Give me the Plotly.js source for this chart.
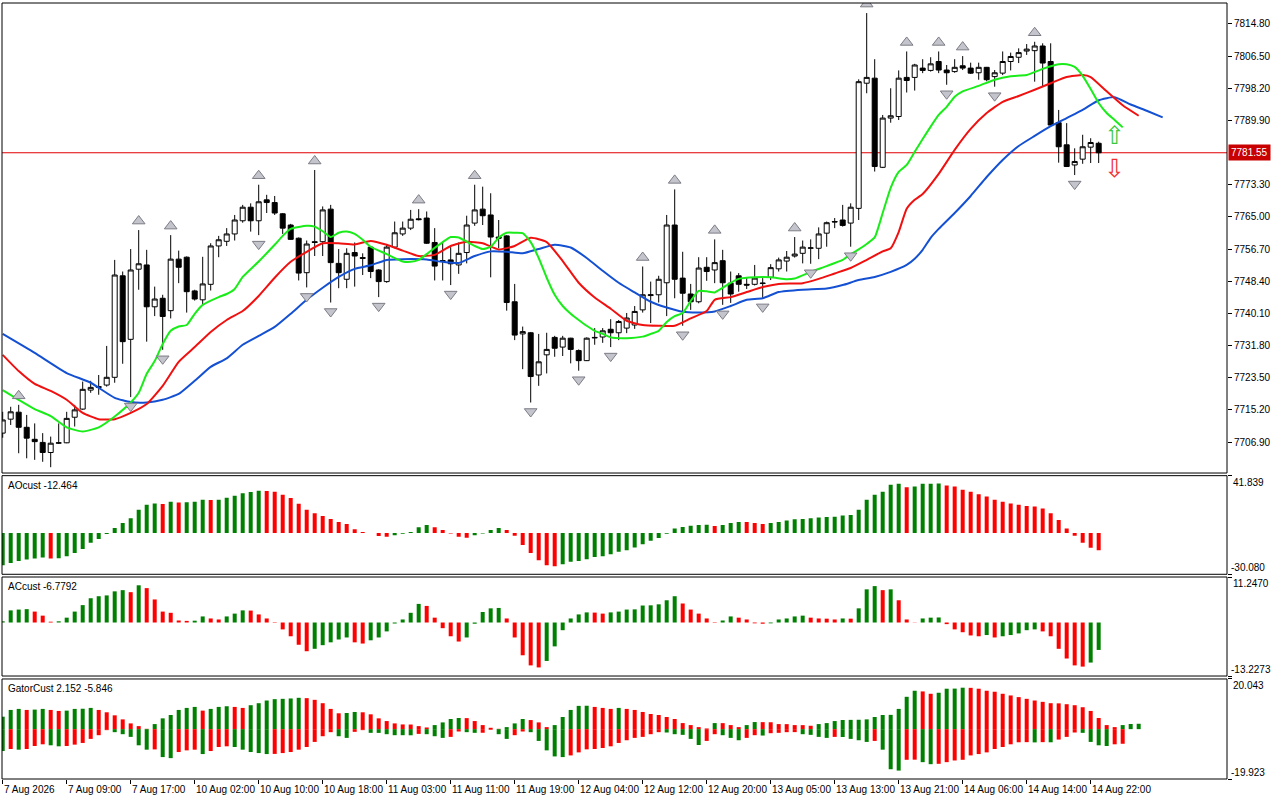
<!DOCTYPE html>
<html><head><meta charset="utf-8">
<script src="https://cdn.plot.ly/plotly-3.0.1.min.js"></script>
<style>html,body{margin:0;padding:0;background:#fff;}#chart{width:1280px;height:800px;}</style>
</head><body><div id="chart"></div>
<script>
// ---- time axis ----
const labelBars = [0,8,16,24,32,40,48,56,64,72,80,88,96,104,112,120,128,136];
const timeLabels = ["7 Aug 2026","7 Aug 09:00","7 Aug 17:00","10 Aug 02:00","10 Aug 10:00","10 Aug 18:00","11 Aug 03:00","11 Aug 11:00","11 Aug 19:00","12 Aug 04:00","12 Aug 12:00","12 Aug 20:00","13 Aug 05:00","13 Aug 13:00","13 Aug 21:00","14 Aug 06:00","14 Aug 14:00","14 Aug 22:00"];
const priceTicks = [7706.90,7715.20,7723.50,7731.80,7740.10,7748.40,7756.70,7765.00,7773.30,7789.90,7798.20,7806.50,7814.80];
const priceRange = [7698.9, 7820.2];

// ---- candles (H1) ----
const opens = [7709.2,7712.8,7714.6,7710.7,7707.6,7706.8,7704.2,7706.6,7706.7,7713.3,
7715.4,7720.3,7721.2,7721.6,7723.6,7749.8,7733.4,7751.5,7752.6,7741.8,
7744.0,7740.8,7754.1,7754.6,7745.9,7743.6,7747.6,7757.5,7758.7,7760.6,
7764.0,7767.5,7764.0,7769.4,7768.7,7765.8,7762.9,7759.5,7750.6,7758.6,
7758.6,7767.0,7753.0,7748.9,7755.8,7754.5,7757.2,7751.3,7748.3,7757.2,
7760.6,7762.1,7764.5,7764.7,7758.4,7753.5,7753.9,7752.6,7755.8,7763.4,
7767.0,7765.5,7759.8,7760.1,7743.1,7734.8,7735.1,7724.2,7729.4,7733.9,
7731.4,7733.7,7730.5,7727.9,7733.9,7734.0,7736.0,7735.1,7736.3,7737.1,
7741.0,7744.7,7744.9,7748.0,7762.9,7749.2,7745.1,7743.1,7752.0,7751.3,
7753.7,7747.9,7749.8,7747.6,7747.6,7747.8,7749.4,7751.6,7753.6,7754.9,
7755.6,7756.9,7756.9,7760.8,7763.8,7764.2,7763.4,7767.2,7799.5,7800.8,
7777.8,7790.5,7790.9,7801.0,7801.0,7803.4,7802.8,7805.1,7802.9,7802.5,
7804.0,7803.4,7802.2,7803.6,7801.2,7802.1,7805.1,7806.2,7807.8,7807.9,
7809.1,7805.1,7789.3,7783.6,7778.4,7779.9,7783.0,7784.0];
const highs = [7714.7,7716.0,7716.5,7713.9,7711.7,7709.2,7708.3,7711.7,7714.7,7716.5,
7722.5,7722.7,7724.2,7731.7,7753.9,7750.9,7756.7,7761.6,7756.5,7747.0,
7744.9,7760.3,7756.3,7754.8,7746.2,7754.7,7758.2,7760.1,7762.1,7765.5,
7768.1,7768.5,7773.3,7770.7,7770.4,7766.0,7763.2,7759.7,7758.9,7777.1,
7767.7,7768.1,7756.7,7756.9,7758.4,7755.6,7757.4,7751.5,7757.8,7763.8,
7763.8,7766.8,7767.0,7766.4,7762.1,7758.6,7757.2,7758.4,7765.3,7773.3,
7772.8,7771.1,7764.2,7760.3,7747.7,7736.7,7735.3,7734.8,7735.1,7734.3,
7734.3,7733.8,7730.8,7733.9,7736.3,7736.3,7738.6,7738.4,7740.2,7742.0,
7752.2,7748.3,7749.8,7765.5,7772.1,7756.0,7747.7,7754.6,7754.6,7759.2,
7756.5,7750.9,7750.5,7749.3,7752.6,7749.2,7752.8,7754.5,7756.2,7759.8,
7758.9,7759.2,7762.3,7763.8,7764.7,7768.1,7768.5,7800.5,7817.6,7805.7,
7791.3,7798.2,7802.8,7807.7,7804.5,7805.7,7806.2,7807.7,7804.2,7805.7,
7806.5,7804.8,7804.8,7803.7,7802.9,7807.7,7807.4,7808.5,7809.6,7810.2,
7809.8,7809.8,7792.6,7789.2,7782.7,7786.2,7785.3,7784.4];
const lows = [7708.0,7711.3,7704.0,7702.7,7702.3,7701.8,7700.4,7706.4,7706.6,7710.9,
7715.2,7719.6,7719.1,7721.2,7722.2,7727.1,7718.5,7746.2,7732.8,7739.4,
7730.7,7738.8,7747.9,7740.3,7743.4,7742.5,7746.0,7754.6,7757.5,7758.9,
7763.5,7761.2,7760.3,7766.0,7765.5,7760.6,7759.1,7748.6,7746.8,7754.9,
7754.9,7742.9,7746.6,7746.6,7747.0,7750.0,7749.2,7744.3,7748.0,7756.9,
7760.1,7761.6,7764.1,7758.0,7748.6,7748.6,7747.4,7750.3,7753.0,7762.7,
7762.9,7749.4,7756.9,7740.8,7733.2,7725.7,7717.1,7721.4,7724.6,7728.9,
7729.1,7727.2,7725.3,7727.8,7732.0,7732.5,7731.4,7733.2,7735.0,7736.1,
7740.3,7737.6,7742.9,7739.4,7744.0,7736.9,7741.0,7742.7,7748.5,7747.9,
7742.3,7742.8,7745.7,7746.4,7747.3,7744.1,7748.7,7750.9,7750.9,7754.5,
7753.0,7752.9,7754.1,7757.3,7762.1,7762.5,7757.3,7764.2,7796.9,7776.7,
7777.6,7789.3,7790.0,7797.1,7797.6,7802.1,7802.5,7802.1,7799.1,7802.2,
7802.9,7801.9,7800.4,7800.0,7798.6,7801.6,7802.8,7804.7,7806.8,7799.9,
7798.6,7788.6,7779.0,7777.9,7775.8,7778.7,7778.9,7778.9];
const closes = [7712.6,7714.7,7710.7,7707.9,7707.0,7704.2,7706.6,7706.7,7713.0,7715.2,
7720.5,7721.0,7721.0,7723.6,7750.0,7732.8,7751.3,7752.9,7741.8,7743.8,
7739.3,7754.1,7752.0,7745.7,7743.8,7747.7,7757.5,7759.1,7760.6,7764.2,
7767.5,7764.0,7768.9,7768.7,7766.0,7762.1,7759.2,7750.5,7758.0,7758.4,
7766.8,7753.2,7750.6,7755.6,7754.9,7754.3,7750.9,7748.3,7757.2,7760.9,
7762.1,7764.4,7764.3,7758.2,7752.3,7753.7,7752.9,7755.6,7762.9,7766.8,
7765.3,7759.8,7759.5,7742.9,7734.5,7735.4,7723.8,7727.6,7730.8,7731.1,
7733.7,7730.8,7727.9,7733.7,7733.8,7735.6,7735.1,7738.0,7738.9,7740.6,
7744.9,7744.9,7748.9,7762.9,7748.9,7745.3,7743.1,7751.8,7750.9,7753.2,
7748.0,7745.1,7747.6,7747.4,7749.2,7747.9,7751.9,7753.9,7754.6,7755.4,
7757.2,7757.0,7760.6,7763.5,7763.7,7762.8,7767.5,7799.9,7801.0,7778.0,
7790.5,7791.1,7800.8,7800.2,7804.2,7802.8,7804.5,7802.9,7802.2,7803.6,
7803.4,7802.1,7803.6,7800.4,7802.2,7805.1,7806.4,7807.4,7808.3,7809.1,
7804.7,7788.7,7783.1,7778.0,7779.3,7783.1,7784.2,7781.55];

// ---- fractals ----
const fractalUpBars = [2,17,21,32,39,52,59,80,84,89,99,108,113,117,120,129];
const fractalDownBars = [16,20,32,38,41,47,56,66,72,76,85,90,95,101,106,118,124,134];

// ---- alligator (shifted lines, read at bar positions) ----
const jawBars = [0,4,8,11,14,16,18,20,22,24,26,28,30,32,34,36,38,40,42,44,46,48,50,53,55,57,59,61,63,65,67,69,71,73,75,77,79,81,83,85,87,89,91,93,95,97,100,103,105,107,109,111,113,114,115,116,117,119,121,123,125,127,129,131,133,135,137,139,141,143,145];
const jawValues = [7734.8,7729.9,7724.7,7722.2,7718.3,7717.2,7717.1,7717.8,7719.3,7722.7,7726.3,7728.5,7732.0,7734.3,7736.6,7740.0,7743.6,7746.7,7749.5,7751.6,7752.5,7753.9,7754.1,7754.0,7753.4,7753.1,7754.9,7756.1,7756.0,7755.6,7756.7,7757.8,7757.1,7754.4,7751.1,7748.0,7745.5,7743.1,7741.6,7740.5,7740.3,7740.6,7742.0,7743.6,7744.0,7745.6,7746.2,7746.5,7747.4,7748.7,7749.5,7750.8,7752.6,7754.2,7756.5,7759.6,7761.9,7766.0,7770.4,7775.3,7779.7,7783.3,7785.9,7788.4,7790.5,7792.6,7795.1,7795.9,7794.0,7792.4,7790.7];
const teethBars = [0,2,4,6,8,10,12,14,16,18,20,22,24,26,28,30,32,34,36,38,40,42,44,46,48,50,52,54,56,58,60,62,64,66,68,70,72,74,76,78,80,82,84,86,88,89,91,93,95,97,100,102,104,106,108,110,111,112,113,114,115,117,119,121,123,125,127,129,131,133,135,136,138,140,142];
const teethValues = [7729.4,7725.2,7721.9,7720.1,7717.8,7714.4,7712.8,7712.8,7714.4,7716.7,7721.4,7727.6,7731.4,7735.3,7738.4,7740.7,7744.6,7749.3,7753.4,7756.0,7758.2,7758.2,7757.9,7758.8,7757.8,7756.3,7754.9,7755.2,7757.5,7758.6,7758.2,7756.6,7757.5,7759.6,7758.5,7753.6,7748.0,7744.2,7741.3,7738.2,7737.1,7736.9,7736.9,7738.8,7740.7,7743.6,7744.3,7745.6,7746.9,7747.7,7747.9,7749.0,7750.4,7751.8,7753.9,7756.1,7756.9,7761.1,7767.1,7769.4,7770.9,7776.1,7782.3,7787.7,7791.8,7794.7,7796.2,7797.8,7799.5,7801.1,7801.6,7801.1,7797.4,7793.8,7791.1];
const lipsBars = [0,2,4,6,8,10,12,14,16,17,18,19,20,21,22,23,24,25,27,28,29,30,32,34,35,36,38,39,40,41,42,43,44,45,46,48,50,51,52,53,54,55,56,57,58,59,60,61,62,63,64,65,66,67,68,69,70,71,72,73,74,75,76,78,80,81,82,83,84,85,86,87,88,89,90,91,92,94,96,98,99,101,103,105,106,107,108,109,110,111,112,113,114,115,116,117,118,119,120,122,124,126,128,130,132,133,134,135,136,137,138,139,140];
const lipsValues = [7720.3,7717.8,7715.4,7713.6,7710.7,7709.6,7710.7,7713.5,7717.1,7719.6,7724.5,7727.8,7732.2,7735.6,7736.7,7737.1,7740.0,7742.3,7744.3,7745.1,7746.4,7749.5,7753.5,7757.8,7760.1,7761.9,7762.7,7762.5,7761.3,7759.8,7760.9,7761.2,7760.6,7759.1,7757.3,7755.4,7753.5,7753.4,7753.9,7755.4,7757.0,7758.5,7759.8,7759.7,7758.6,7757.5,7756.7,7757.3,7759.6,7760.9,7760.9,7760.8,7758.5,7754.4,7749.3,7744.9,7742.0,7740.0,7738.4,7736.9,7735.6,7734.8,7733.9,7733.7,7734.1,7734.8,7735.6,7737.9,7739.4,7740.2,7743.3,7745.9,7745.8,7745.5,7746.7,7748.0,7749.0,7749.4,7749.4,7748.9,7749.1,7750.8,7752.3,7753.9,7755.4,7756.6,7758.0,7759.7,7766.0,7772.5,7776.6,7778.4,7781.8,7785.1,7788.3,7791.3,7793.4,7796.0,7797.4,7798.8,7800.4,7801.3,7801.6,7803.2,7804.4,7804.4,7803.7,7801.4,7798.0,7794.4,7791.8,7790.0,7788.1];

// ---- signal arrows (buy arrow sits above, sell arrow below) ----
const signalBar = 139;
const buySignal = 7782.0;
const sellSignal = 7781.4;

// ---- oscillators ----
const aoValues = [-23.5,-21.8,-20.3,-19.3,-18.6,-17.8,-18.5,-18.3,-16.9,-14.5,
-11.7,-7.1,-4.4,-0.7,3.7,7.3,10.8,16.9,20.6,21.5,
21.2,22.9,22.3,22.5,22.9,24.2,24.0,24.3,25.7,27.2,
29.1,29.9,30.8,30.7,30.1,27.9,25.5,21.3,16.9,14.5,
12.5,10.3,8.1,6.6,2.7,0.7,0.1,-2.2,-2.7,-1.7,
-0.5,0.8,4.2,5.9,4.2,2.2,-0.3,-2.7,-3.4,-1.7,
-0.3,2.2,3.7,2.2,-2.0,-8.8,-14.5,-19.8,-23.5,-24.2,
-22.8,-21.0,-20.3,-19.1,-17.4,-16.9,-15.4,-13.7,-12.5,-10.5,
-8.1,-5.6,-3.7,-0.5,3.4,4.4,5.4,5.8,6.0,5.1,
5.9,7.3,8.1,8.0,7.3,6.6,7.3,8.1,9.1,10.0,
10.3,10.8,11.3,11.7,11.8,12.7,13.2,16.9,24.2,27.9,
30.1,35.2,36.0,33.3,34.0,35.9,36.0,36.1,34.7,34.0,
31.6,30.1,28.2,26.7,24.2,22.8,21.5,20.6,19.8,19.3,
17.9,14.5,9.5,3.4,-2.0,-7.1,-10.8,-12.464];
const acValues = [0.3,3.0,3.2,3.3,2.7,1.7,0.2,0.3,1.2,2.7,
4.3,6.0,6.5,6.7,7.7,8.0,7.5,9.2,8.5,5.7,
2.7,2.4,0.5,0.4,0.45,1.5,1.0,0.75,1.5,2.2,
3.0,2.95,2.0,1.0,-0.1,-1.7,-3.4,-5.5,-7.1,-6.5,
-5.6,-4.9,-4.2,-3.7,-4.9,-5.2,-4.4,-3.7,-2.2,-0.25,
0.75,2.4,4.6,4.1,1.2,-1.4,-3.4,-4.7,-3.7,-0.3,
2.6,3.5,3.6,1.0,-3.7,-8.1,-10.6,-11.1,-9.5,-5.9,
-1.9,1.0,2.0,2.5,2.45,2.2,2.5,2.7,3.2,3.25,
4.2,4.25,4.5,5.5,6.5,4.7,3.2,2.2,1.0,-0.1,
0.5,1.5,1.2,0.75,-0.2,-0.3,-0.2,0.75,1.0,1.5,
1.7,1.2,1.0,0.95,0.75,1.0,0.95,3.5,8.2,9.0,
8.0,8.2,5.5,0.75,-0.05,1.0,1.2,1.25,-0.4,-1.7,
-2.4,-3.2,-3.4,-3.1,-3.7,-3.4,-3.1,-2.7,-1.9,-1.7,
-2.2,-3.4,-6.5,-8.9,-10.6,-10.9,-9.9,-6.7792];
const gatorUpper = [4.98,7.67,8.08,7.67,7.81,8.08,7.67,7.27,7.40,8.08,
8.15,8.48,7.67,6.73,5.52,3.90,2.29,1.21,0.13,2.02,
4.31,5.65,7.67,8.48,8.88,7.40,8.08,8.88,9.15,8.88,
8.48,9.56,10.36,11.44,11.98,12.11,12.25,12.52,12.38,11.71,
10.36,8.08,6.33,6.46,6.86,6.73,5.92,4.31,3.23,2.29,
1.88,1.84,1.21,0.67,1.62,2.69,4.04,4.44,4.40,3.23,
1.62,0.54,0.13,0.81,2.29,4.04,3.63,2.69,0.81,1.62,
4.85,7.67,9.29,9.35,8.88,8.48,8.08,8.48,8.08,7.67,
6.86,6.06,5.65,4.85,4.04,2.42,1.62,0.81,0.27,2.42,
2.40,1.62,0.81,1.62,2.83,2.80,2.75,2.02,2.00,1.62,
1.60,1.35,2.02,2.42,3.23,3.65,3.70,3.75,3.90,4.85,
5.65,5.70,8.08,12.92,15.34,15.07,14.13,14.54,16.15,16.20,
16.56,16.50,16.15,15.34,14.94,14.13,13.46,12.79,12.11,11.44,
10.90,10.36,10.30,9.96,9.56,8.75,7.27,4.44,1.62,0.81,
1.62,2.05,2.152];
const gatorLower = [-8.75,-7.94,-8.21,-7.94,-6.73,-6.06,-6.46,-6.86,-6.73,-6.19,
-5.52,-3.90,-2.42,-0.40,-1.21,-2.02,-3.10,-6.46,-8.21,-8.10,
-11.17,-11.58,-9.15,-8.48,-8.21,-9.96,-8.75,-7.13,-6.86,-7.13,
-8.21,-9.15,-9.56,-9.96,-9.90,-9.56,-9.15,-8.21,-7.13,-5.11,
-2.83,-1.21,-2.83,-3.50,-1.08,-0.40,-1.48,-1.50,-2.02,-2.42,
-2.42,-2.45,-1.90,-2.02,-2.83,-3.50,-3.10,-0.94,-1.21,-1.48,
-1.45,-0.27,-2.02,-3.90,-2.42,-0.94,-1.21,-4.71,-8.48,-10.90,
-11.17,-10.50,-9.29,-8.08,-7.94,-7.54,-6.86,-5.52,-4.44,-3.50,
-3.10,-2.02,-1.21,-1.35,-2.02,-2.29,-3.90,-6.33,-4.71,-2.02,
-2.42,-3.50,-4.44,-3.50,-2.42,-2.56,-1.62,-1.48,-1.21,-1.19,
-2.02,-2.29,-3.10,-3.50,-3.10,-3.15,-3.90,-4.44,-5.11,-4.71,
-8.21,-16.02,-16.56,-12.25,-12.20,-13.19,-14.00,-13.86,-13.19,-12.52,
-12.25,-10.50,-9.96,-9.29,-7.94,-7.13,-6.06,-5.25,-5.20,-5.30,
-5.20,-5.25,-4.17,-3.10,-1.35,-1.48,-5.11,-6.46,-6.73,-6.06,
-5.846];
const aoScale = [-30.080, 41.839];
const acScale = [-13.2273, 11.2470];
const gatorScale = [-19.923, 20.043];

// ---- build ----
const GREEN = '#008000', RED = '#ff0000';
const idx = n => Array.from({length:n}, (_, i) => i);
function growColors(vals, useAbs) {
  const out = []; let c = GREEN;
  for (let i = 0; i < vals.length; i++) {
    if (i > 0) {
      const a = useAbs ? Math.abs(vals[i]) : vals[i];
      const b = useAbs ? Math.abs(vals[i-1]) : vals[i-1];
      if (a > b) c = GREEN; else if (a < b) c = RED;
    }
    out.push(c);
  }
  return out;
}
const bars = idx(opens.length);
const mainDom = [0.3943, 1], aoDom = [0.2638, 0.3909], acDom = [0.1327, 0.2603], gDom = [0, 0.1289];
const mainPx = 470;
const fracOff = 9 * (priceRange[1] - priceRange[0]) / mainPx;
const lastClose = closes[closes.length - 1];

const traces = [
  {type:'candlestick', x:bars, open:opens, high:highs, low:lows, close:closes, xaxis:'x', yaxis:'y',
   increasing:{line:{color:'#000', width:1}, fillcolor:'#ffffff'},
   decreasing:{line:{color:'#000', width:1}, fillcolor:'#000000'}, whiskerwidth:0, hoverinfo:'skip'},
  {type:'scatter', mode:'lines', x:jawBars, y:jawValues, line:{color:'#1450d2', width:2, shape:'spline', smoothing:0.5}, yaxis:'y'},
  {type:'scatter', mode:'lines', x:teethBars, y:teethValues, line:{color:'#f01010', width:2, shape:'spline', smoothing:0.5}, yaxis:'y'},
  {type:'scatter', mode:'lines', x:lipsBars, y:lipsValues, line:{color:'#1aec1a', width:2, shape:'spline', smoothing:0.5}, yaxis:'y'},
  {type:'scatter', mode:'markers', x:fractalUpBars, y:fractalUpBars.map(b => highs[b] + fracOff), yaxis:'y',
   marker:{symbol:'triangle-up', size:11, color:'#c4c4cc', line:{color:'#7c7c86', width:1}}},
  {type:'scatter', mode:'markers', x:fractalDownBars, y:fractalDownBars.map(b => lows[b] - fracOff), yaxis:'y',
   marker:{symbol:'triangle-down', size:11, color:'#c4c4cc', line:{color:'#7c7c86', width:1}}},
  {type:'bar', x:idx(aoValues.length), y:aoValues, width:0.5, yaxis:'y2', marker:{color:growColors(aoValues,false), line:{width:0}}},
  {type:'bar', x:idx(acValues.length), y:acValues, width:0.5, yaxis:'y3', marker:{color:growColors(acValues,false), line:{width:0}}},
  {type:'bar', x:idx(gatorUpper.length), y:gatorUpper, width:0.5, yaxis:'y4', marker:{color:growColors(gatorUpper,true), line:{width:0}}},
  {type:'bar', x:idx(gatorLower.length), y:gatorLower, width:0.5, yaxis:'y4', marker:{color:growColors(gatorLower,true), line:{width:0}}}
];

const FONT = 'Liberation Sans, Arial, sans-serif';
const subAxis = (dom, rng) => ({domain:dom, range:rng, side:'right', anchor:'x', showgrid:false, zeroline:false,
  showline:false, ticks:'outside', ticklen:4, tickcolor:'#000', tickvals:rng, showticklabels:false, fixedrange:true});

const annotations = [];
labelBars.forEach((b, i) => annotations.push({xref:'x', yref:'paper', x:b, y:0, xanchor:'left', yanchor:'top',
  xshift:-1, yshift:-3, text:timeLabels[i], showarrow:false, font:{family:FONT, size:10, color:'#000'}}));
[[aoScale,'y2',3],[acScale,'y3',4],[gatorScale,'y4',3]].forEach(([s, ax, d]) => {
  annotations.push({xref:'paper', yref:ax, x:1, y:s[1], xanchor:'left', yanchor:'top', xshift:4, yshift:1,
    text:s[1].toFixed(d), showarrow:false, font:{family:FONT, size:10, color:'#000'}});
  annotations.push({xref:'paper', yref:ax, x:1, y:s[0], xanchor:'left', yanchor:'bottom', xshift:2, yshift:-1,
    text:s[0].toFixed(d), showarrow:false, font:{family:FONT, size:10, color:'#000'}});
});
const titles = [
  [aoDom, 'AOcust ' + aoValues[aoValues.length-1].toFixed(3)],
  [acDom, 'ACcust ' + acValues[acValues.length-1].toFixed(4)],
  [gDom, 'GatorCust ' + gatorUpper[gatorUpper.length-1].toFixed(3) + ' ' + gatorLower[gatorLower.length-1].toFixed(3)]
];
titles.forEach(([dom, t]) => annotations.push({xref:'paper', yref:'paper', x:0, y:dom[1], xanchor:'left', yanchor:'top',
  xshift:4, yshift:-2, text:t, showarrow:false, font:{family:FONT, size:10, color:'#000'}}));
annotations.push({xref:'paper', yref:'y', x:1, y:lastClose, xanchor:'left', yanchor:'middle', xshift:1,
  text:lastClose.toFixed(2), showarrow:false, bgcolor:'#c80000', borderpad:2, font:{family:FONT, size:10, color:'#ffffff'}});
annotations.push({xref:'x', yref:'y', x:signalBar, y:buySignal, yanchor:'bottom', text:'\u21E7', showarrow:false,
  borderpad:0, font:{family:'DejaVu Sans', size:25, color:'#3cc83c'}});
annotations.push({xref:'x', yref:'y', x:signalBar, y:sellSignal, yanchor:'top', text:'\u21E9', showarrow:false,
  borderpad:0, font:{family:'DejaVu Sans', size:25, color:'#f03030'}});

const shapes = [mainDom, aoDom, acDom, gDom].map(d => ({type:'rect', xref:'paper', yref:'paper', x0:0, x1:1,
  y0:d[0], y1:d[1], line:{color:'#000', width:1}, fillcolor:'rgba(0,0,0,0)', layer:'above'}));
shapes.push({type:'line', xref:'paper', yref:'y', x0:0, x1:1, y0:lastClose, y1:lastClose, line:{color:'#e00000', width:1}, layer:'below'});

const layout = {
  width:1280, height:800, margin:{l:2, r:53, t:3, b:21}, paper_bgcolor:'#ffffff', plot_bgcolor:'#ffffff',
  showlegend:false, hovermode:false, barmode:'overlay', boxgap:0.375, boxgroupgap:0,
  font:{family:FONT, size:10, color:'#000'},
  xaxis:{range:[-0.0875, 153.04], anchor:'y4', showgrid:false, zeroline:false, showline:false, ticks:'outside',
    ticklen:4, tickcolor:'#000', tickvals:labelBars, showticklabels:false, rangeslider:{visible:false}, fixedrange:true},
  yaxis:{domain:mainDom, range:priceRange, side:'right', anchor:'x', showgrid:false, zeroline:false, showline:false,
    ticks:'outside', ticklen:4, tickcolor:'#000', tickvals:priceTicks, tickformat:'.2f',
    tickfont:{family:FONT, size:10, color:'#000'}, fixedrange:true},
  yaxis2:subAxis(aoDom, aoScale),
  yaxis3:subAxis(acDom, acScale),
  yaxis4:subAxis(gDom, gatorScale),
  shapes:shapes, annotations:annotations
};
Plotly.newPlot('chart', traces, layout, {displayModeBar:false, staticPlot:true});
</script></body></html>
